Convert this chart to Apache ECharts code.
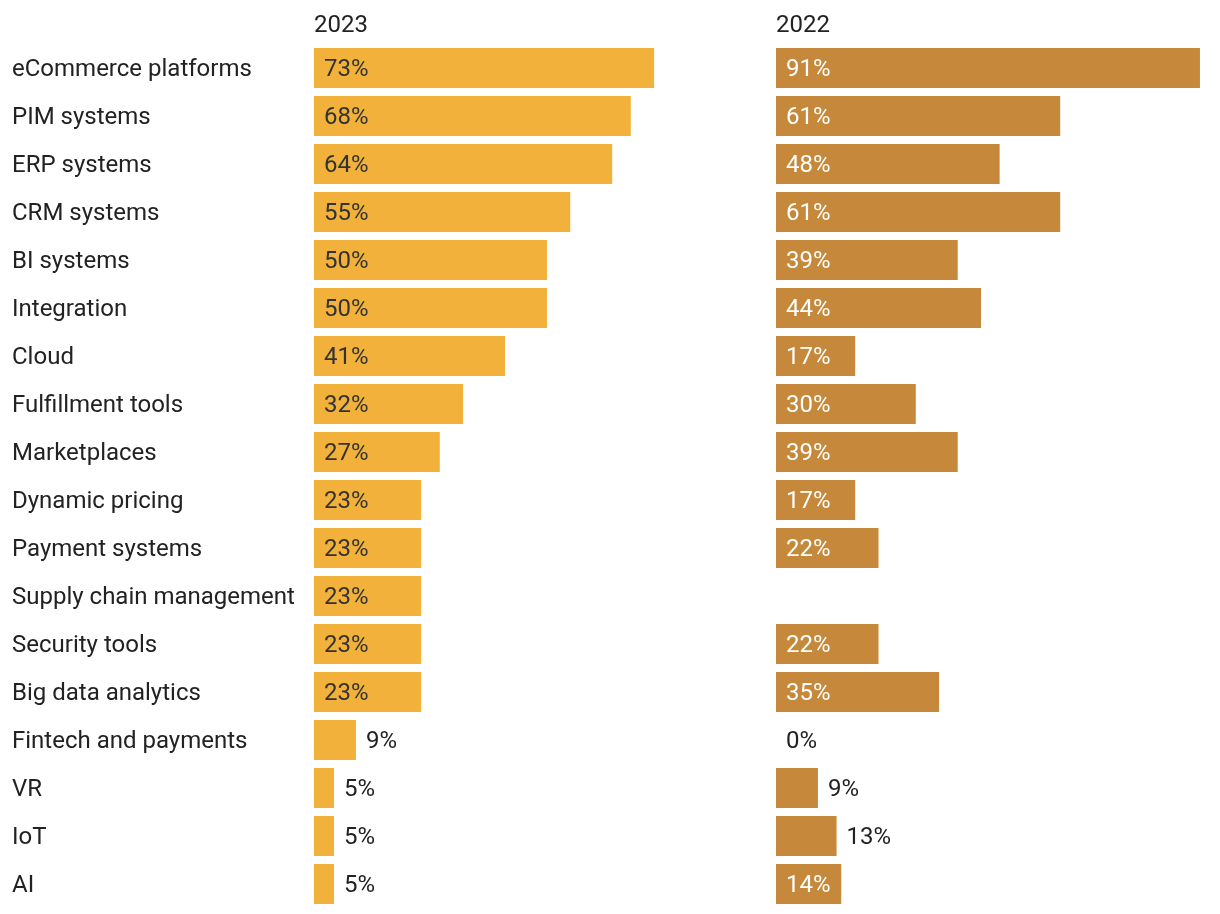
<!DOCTYPE html>
<html>
<head>
<meta charset="utf-8">
<script src="https://cdn.jsdelivr.net/npm/echarts@6/dist/echarts.min.js"></script>
<style>html,body{margin:0;padding:0;background:#fff}#c{width:1220px;height:914px}</style>
</head>
<body>
<div id="c"></div>
<script>
const categories = ["eCommerce platforms","PIM systems","ERP systems","CRM systems","BI systems","Integration","Cloud","Fulfillment tools","Marketplaces","Dynamic pricing","Payment systems","Supply chain management","Security tools","Big data analytics","Fintech and payments","VR","IoT","AI"];
const values2023 = [73,68,64,55,50,50,41,32,27,23,23,23,23,23,9,4.3,4.3,4.3];
const labels2023 = ["73%","68%","64%","55%","50%","50%","41%","32%","27%","23%","23%","23%","23%","23%","9%","5%","5%","5%"];
const values2022 = [91,61,48,61,39,44,17,30,39,17,22,null,22,35,0,9,13,14];
const labels2022 = ["91%","61%","48%","61%","39%","44%","17%","30%","39%","17%","22%","","22%","35%","0%","9%","13%","14%"];
const titles = ["2023","2022"];

const FONT = 'Roboto';
const FS = 24;
const colors = ['#F2B13A','#C6893B'];
const insideColors = ['#333333','#ffffff'];

function buildData(vals, labels, idx){
  return vals.map((v,i)=>{
    if (v === null) return {value: null};
    const inside = v >= 14;
    return {
      value: v,
      label: {
        show: true,
        position: inside ? 'insideLeft' : 'right',
        distance: 10,
        offset: [0, 2],
        color: inside ? insideColors[idx] : '#222222',
        fontFamily: FONT, fontSize: FS,
        formatter: labels[i]
      }
    };
  });
}

const chart = echarts.init(document.getElementById('c'), null, {renderer:'canvas'});
const gridTop = 44, rowH = 48;
const PX_PER_PCT = 4.659;
chart.setOption({
  animation: false,
  title: [
    {text: titles[0], left: 314, top: 14, padding: 0, textStyle:{fontFamily:FONT,fontSize:FS,fontWeight:'normal',color:'#222'}},
    {text: titles[1], left: 776, top: 14, padding: 0, textStyle:{fontFamily:FONT,fontSize:FS,fontWeight:'normal',color:'#222'}}
  ],
  grid: [
    {left: 314, top: gridTop, width: 466, height: rowH*categories.length},
    {left: 776, top: gridTop, width: 430, height: rowH*categories.length}
  ],
  xAxis: [
    {gridIndex:0, type:'value', min:0, max:466/PX_PER_PCT, show:false},
    {gridIndex:1, type:'value', min:0, max:430/PX_PER_PCT, show:false}
  ],
  yAxis: [
    {gridIndex:0, type:'category', data:categories, inverse:true,
     axisLine:{show:false}, axisTick:{show:false}, splitLine:{show:false},
     axisLabel:{margin:302, align:'left', fontFamily:FONT, fontSize:FS, color:'#222',
       formatter: v => '{a|' + v + '}',
       rich: {a: {fontFamily:FONT, fontSize:FS, color:'#222', padding:[4,0,0,0]}}}},
    {gridIndex:1, type:'category', data:categories, inverse:true, show:false}
  ],
  series: [
    {type:'bar', xAxisIndex:0, yAxisIndex:0, barWidth:40, itemStyle:{color:colors[0]},
     data: buildData(values2023, labels2023, 0)},
    {type:'bar', xAxisIndex:1, yAxisIndex:1, barWidth:40, itemStyle:{color:colors[1]},
     data: buildData(values2022, labels2022, 1)}
  ]
});
</script>
</body>
</html>
